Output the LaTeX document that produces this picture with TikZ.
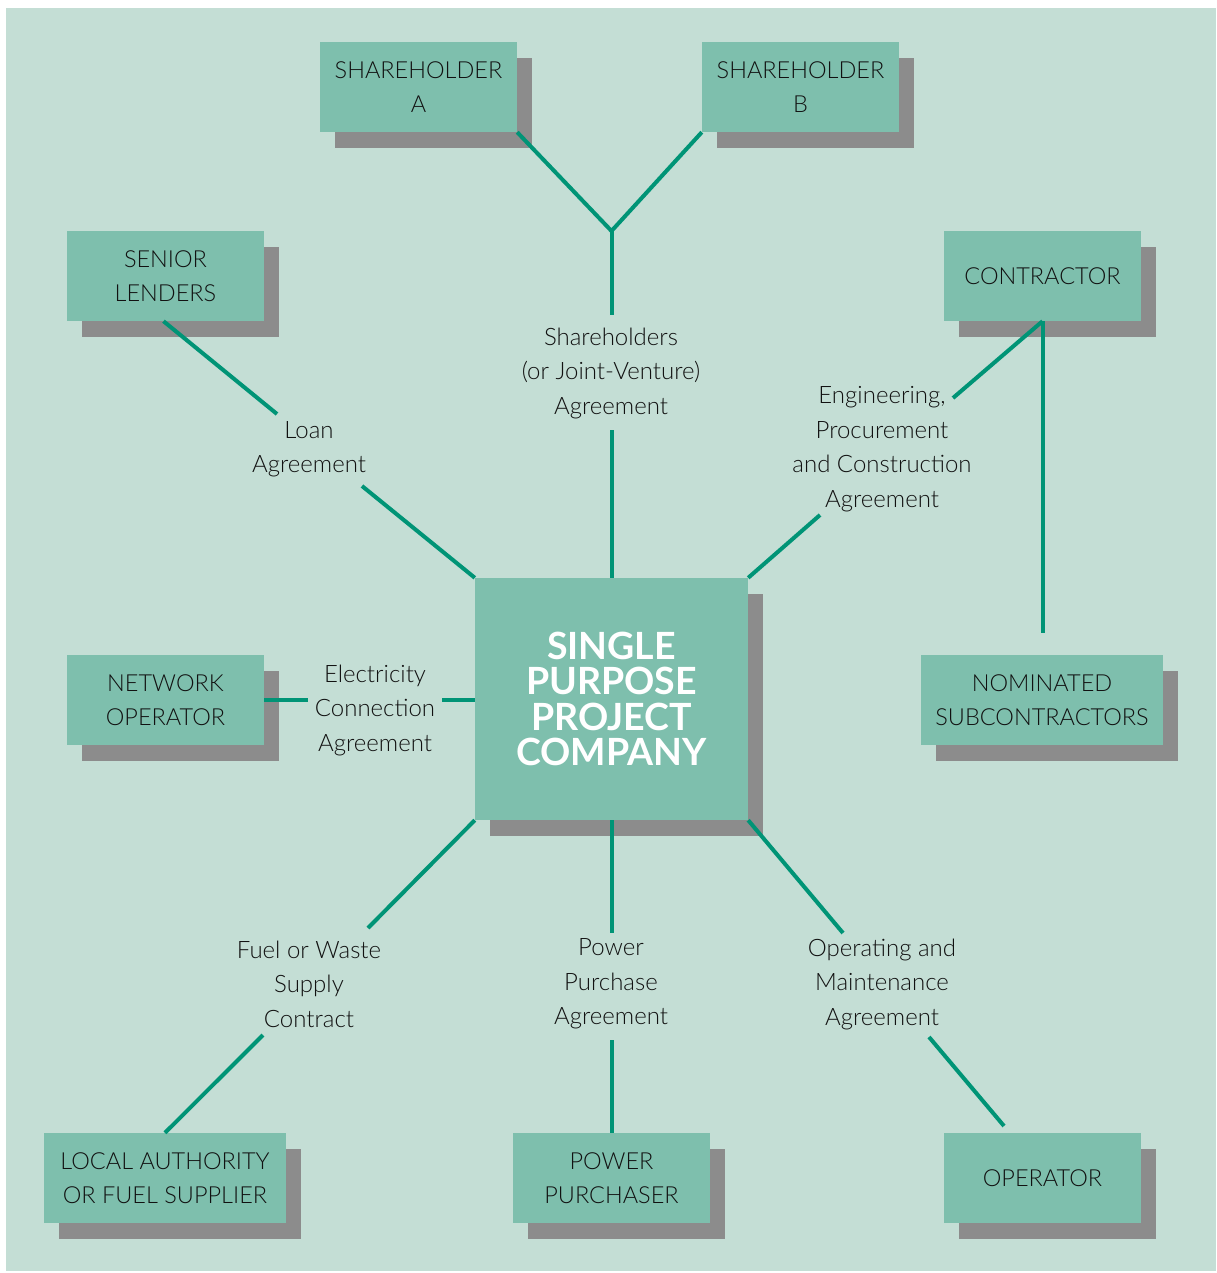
\documentclass[tikz,border=0pt]{standalone}
\usepackage{fontspec}
\setmainfont{Lato}[UprightFont={* Light}, BoldFont={* Bold}]
\usetikzlibrary{shadows}
\definecolor{bgc}{HTML}{C4DED5}
\definecolor{boxc}{HTML}{7EBFAD}
\definecolor{shadc}{HTML}{8C8C8C}
\definecolor{linec}{HTML}{009476}
\definecolor{txtc}{HTML}{111111}
\begin{document}
\begin{tikzpicture}[x=1pt,y=-1pt,
  entity/.style={fill=boxc, inner sep=0pt, align=center, text=txtc,
    font=\fontsize{23.5}{34.5}\selectfont,
    general shadow={fill=shadc, shadow xshift=15pt, shadow yshift=-16pt}},
  lbl/.style={align=center, text=txtc, inner sep=0pt, font=\fontsize{24}{34.5}\selectfont},
  link/.style={draw=linec, line width=4pt}]
\useasboundingbox (0,0) rectangle (1216,1273);
\fill[bgc] (6,8) rectangle (1216,1271);

% entities
\node[entity, minimum width=197pt, minimum height=90pt] (shA) at (418.5,87) {SHAREHOLDER\\A};
\node[entity, minimum width=197pt, minimum height=90pt] (shB) at (800.5,87) {SHAREHOLDER\\B};
\node[entity, minimum width=197pt, minimum height=90pt] (lenders) at (165.5,276) {SENIOR\\LENDERS};
\node[entity, minimum width=197pt, minimum height=90pt] (contractor) at (1042.5,276) {CONTRACTOR};
\node[entity, minimum width=273pt, minimum height=242pt, text=white,
  font=\bfseries\fontsize{37.5}{35.5}\selectfont] (spc) at (611.5,699) {SINGLE\\PURPOSE\\PROJECT\\COMPANY};
\node[entity, minimum width=197pt, minimum height=90pt] (network) at (165.5,700) {NETWORK\\OPERATOR};
\node[entity, minimum width=242pt, minimum height=90pt] (nominated) at (1042,700) {NOMINATED\\SUBCONTRACTORS};
\node[entity, minimum width=242pt, minimum height=90pt] (local) at (165,1178) {LOCAL AUTHORITY\\OR FUEL SUPPLIER};
\node[entity, minimum width=197pt, minimum height=90pt] (power) at (611.5,1178) {POWER\\PURCHASER};
\node[entity, minimum width=197pt, minimum height=90pt] (operator) at (1042.5,1178) {OPERATOR};

% labels
\node[lbl] (lshare) at (611,373) {Shareholders\\(or Joint-Venture)\\Agreement};
\node[lbl] (lloan) at (309,449) {Loan\\Agreement};
\node[lbl] (lepc) at (882,449) {Engineering,\\Procurement\\and Construction\\Agreement};
\node[lbl] (lelec) at (375,710) {Electricity\\Connection\\Agreement};
\node[lbl] (lfuel) at (309,984) {Fuel or Waste\\Supply\\Contract};
\node[lbl] (lppa) at (611,984) {Power\\Purchase\\Agreement};
\node[lbl] (lom) at (882,984) {Operating and\\Maintenance\\Agreement};

% free ends of connectors
\coordinate (jn) at (611.5,231);
\coordinate (s1) at (611.5,315);
\coordinate (s2) at (611.5,430);
\coordinate (l1) at (277,414);
\coordinate (l2) at (362,486);
\coordinate (e1) at (953,398);
\coordinate (e2) at (820,515);
\coordinate (n1) at (1042.5,633);
\coordinate (c1) at (308,700);
\coordinate (c2) at (442,700);
\coordinate (f1) at (368,928);
\coordinate (f2) at (263,1035);
\coordinate (p1) at (611.5,933);
\coordinate (p2) at (611.5,1040);
\coordinate (o1) at (843,933);
\coordinate (o2) at (929,1037);
\coordinate (o3) at (1004,1126);

% connectors
\draw[link] (shA.south east) -- (jn) -- (shB.south west);
\draw[link] (jn) -- (s1);
\draw[link] (s2) -- (spc.north);
\draw[link] ([xshift=-2pt]lenders.south) -- (l1);
\draw[link] (l2) -- (spc.north west);
\draw[link] (contractor.south) -- (e1);
\draw[link] (e2) -- (spc.north east);
\draw[link] (contractor.south) -- (n1);
\draw[link] (network.east) -- (c1);
\draw[link] (c2) -- (spc.west |- c2);
\draw[link] (spc.south west) -- (f1);
\draw[link] (f2) -- (local.north);
\draw[link] (spc.south) -- (p1);
\draw[link] (p2) -- (power.north);
\draw[link] (spc.south east) -- (o1);
\draw[link] (o2) -- (o3);
\end{tikzpicture}
\end{document}
